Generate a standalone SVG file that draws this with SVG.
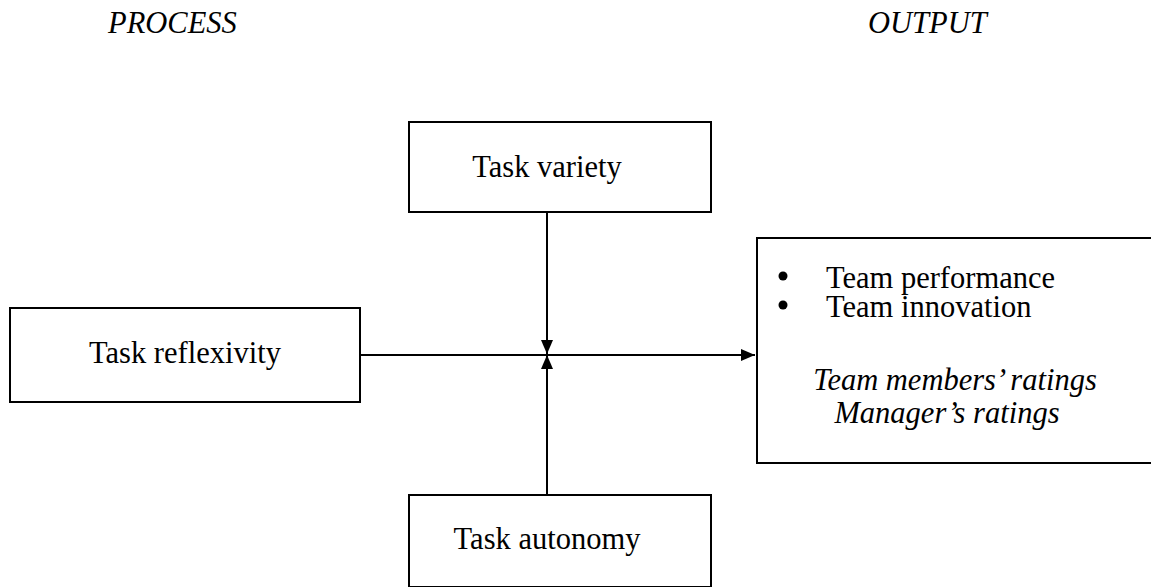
<svg xmlns="http://www.w3.org/2000/svg" width="1151" height="587" viewBox="0 0 1151 587">
<style>
.box{fill:#fff;stroke:#000;stroke-width:2}
.t{font-family:"Liberation Serif","Times New Roman",serif;font-size:30.5px;fill:#000}
.i{font-style:italic}
.c{text-anchor:middle}
.ln{stroke:#000;stroke-width:2;fill:none}
.dot{fill:#000}
</style>
<defs>
<marker id="ah" viewBox="0 0 14 12" refX="14" refY="6" markerWidth="14" markerHeight="12" markerUnits="userSpaceOnUse" orient="auto">
<path d="M0,0 L14,6 L0,12 Z" fill="#000"/>
</marker>
</defs>
<g id="labels">
<text class="t i" x="108" y="33">PROCESS</text>
<text class="t i" x="868" y="33">OUTPUT</text>
</g>
<g id="connectors">
<line class="ln" x1="360" y1="355" x2="755" y2="355" marker-end="url(#ah)"/>
<line class="ln" x1="547" y1="212" x2="547" y2="354" marker-end="url(#ah)"/>
<line class="ln" x1="547" y1="495" x2="547" y2="355" marker-end="url(#ah)"/>
</g>
<g id="task-variety">
<rect class="box" x="409" y="122" width="302" height="90"/>
<text class="t c" x="547" y="177">Task variety</text>
</g>
<g id="task-reflexivity">
<rect class="box" x="10" y="308" width="350" height="94"/>
<text class="t c" x="185" y="363">Task reflexivity</text>
</g>
<g id="task-autonomy">
<rect class="box" x="409" y="495" width="302" height="92"/>
<text class="t c" x="547" y="549">Task autonomy</text>
</g>
<g id="output">
<rect class="box" x="757" y="238" width="410" height="225"/>
<circle class="dot" cx="783" cy="276" r="4.5"/>
<text class="t" x="826" y="288">Team performance</text>
<circle class="dot" cx="783" cy="305" r="4.5"/>
<text class="t" x="826" y="317">Team innovation</text>
<text class="t i c" x="955" y="390">Team members’ ratings</text>
<text class="t i c" x="947" y="423">Manager’s ratings</text>
</g>
</svg>
